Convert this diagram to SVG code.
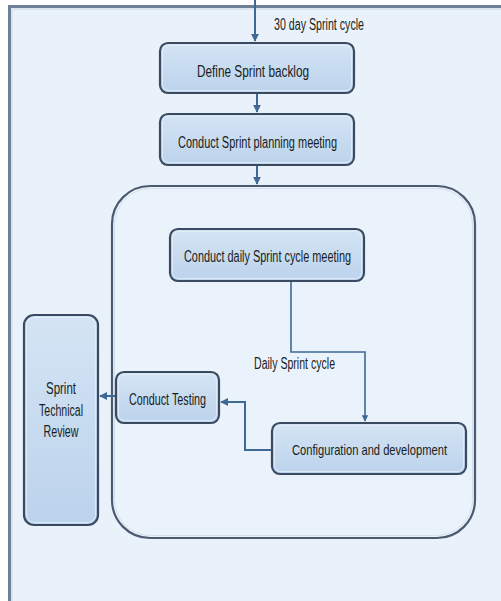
<svg xmlns="http://www.w3.org/2000/svg" width="501" height="601" viewBox="0 0 501 601">
<defs>
<linearGradient id="boxg" x1="0" y1="0" x2="0" y2="1">
<stop offset="0" stop-color="#d4e4f4"/>
<stop offset="1" stop-color="#bcd3ec"/>
</linearGradient>
<marker id="ah" viewBox="0 0 10 10" refX="9" refY="5" markerWidth="4" markerHeight="4" orient="auto" markerUnits="strokeWidth">
<path d="M0,0 L10,5 L0,10 z" fill="#3f6895"/>
</marker>
<style>
.box{fill:url(#boxg);stroke:#3a4a60;stroke-width:2.2}
.inner{fill:none;stroke:#e6eff9;stroke-width:0.8}
.t{font-family:"Liberation Sans Narrow","Liberation Sans",Arial,sans-serif;font-size:16px;fill:#1a1d22;text-anchor:middle}
.lbl{font-family:"Liberation Sans Narrow","Liberation Sans",Arial,sans-serif;font-size:16px;fill:#1a1d22}
.c{fill:none;stroke:#3f6895;stroke-width:2}
.cthin{fill:none;stroke:#3f6895;stroke-width:1.6}
</style>
</defs>
<rect x="0" y="0" width="501" height="601" fill="#ffffff"/>
<rect x="10" y="7" width="491" height="594" fill="#e9f2fb"/>
<g id="frame">
<path d="M9.5,601 V6.5 H501" fill="none" stroke="#6e8096" stroke-width="3"/>
<path d="M12,601 V9 H501" fill="none" stroke="#c9d6e4" stroke-width="1"/>
</g>
<g id="container">
<rect x="112" y="186" width="363" height="352" rx="38" ry="38" fill="#eaf3fb" stroke="#4a5a70" stroke-width="2.2"/>
<rect x="114.5" y="188.5" width="358" height="347" rx="36" ry="36" fill="none" stroke="#d3dfeb" stroke-width="1"/>
</g>
<g id="connectors">
<path class="c" d="M255,0 V41" marker-end="url(#ah)"/>
<path class="c" d="M257,93 V112" marker-end="url(#ah)"/>
<path class="c" d="M257,165 V184" marker-end="url(#ah)"/>
<path class="cthin" d="M291,281 V352 H365 V421" marker-end="url(#ah)"/>
<path class="c" d="M272,450 H245 V402 H221" marker-end="url(#ah)"/>
<path class="c" d="M116,396 H100" marker-end="url(#ah)"/>
<text class="lbl" x="274" y="29.5" textLength="90" lengthAdjust="spacingAndGlyphs">30 day Sprint cycle</text>
<text class="lbl" x="254" y="368.5" textLength="81" lengthAdjust="spacingAndGlyphs">Daily Sprint cycle</text>
</g>
<g id="define-backlog">
<rect class="box" x="160" y="43" width="194" height="50" rx="8"/>
<rect class="inner" x="162.5" y="45.5" width="189" height="45" rx="6"/>
<text class="t" x="253" y="76.5" textLength="112" lengthAdjust="spacingAndGlyphs">Define Sprint backlog</text>
</g>
<g id="planning-meeting">
<rect class="box" x="160" y="114" width="194" height="51" rx="8"/>
<rect class="inner" x="162.5" y="116.5" width="189" height="46" rx="6"/>
<text class="t" x="257.5" y="147.5" textLength="159" lengthAdjust="spacingAndGlyphs">Conduct Sprint planning meeting</text>
</g>
<g id="daily-meeting">
<rect class="box" x="170" y="229" width="194" height="52" rx="8"/>
<rect class="inner" x="172.5" y="231.5" width="189" height="47" rx="6"/>
<text class="t" x="267.5" y="261.5" textLength="167" lengthAdjust="spacingAndGlyphs">Conduct daily Sprint cycle meeting</text>
</g>
<g id="technical-review">
<rect class="box" x="24" y="315" width="74" height="210" rx="10"/>
<rect class="inner" x="26.5" y="317.5" width="69" height="205" rx="8"/>
<text class="t" x="61" y="393.5" textLength="30" lengthAdjust="spacingAndGlyphs">Sprint</text>
<text class="t" x="61" y="415.5" textLength="44" lengthAdjust="spacingAndGlyphs">Technical</text>
<text class="t" x="61" y="436.5" textLength="35" lengthAdjust="spacingAndGlyphs">Review</text>
</g>
<g id="conduct-testing">
<rect class="box" x="116" y="372" width="103" height="51" rx="8"/>
<rect class="inner" x="118.5" y="374.5" width="98" height="46" rx="6"/>
<text class="t" x="167.5" y="404.5" textLength="77" lengthAdjust="spacingAndGlyphs">Conduct Testing</text>
</g>
<g id="config-dev">
<rect class="box" x="272" y="423" width="194" height="51" rx="8"/>
<rect class="inner" x="274.5" y="425.5" width="189" height="46" rx="6"/>
<text class="t" x="369.5" y="455" style="font-size:14.5px" textLength="155" lengthAdjust="spacingAndGlyphs">Configuration and development</text>
</g>
</svg>
